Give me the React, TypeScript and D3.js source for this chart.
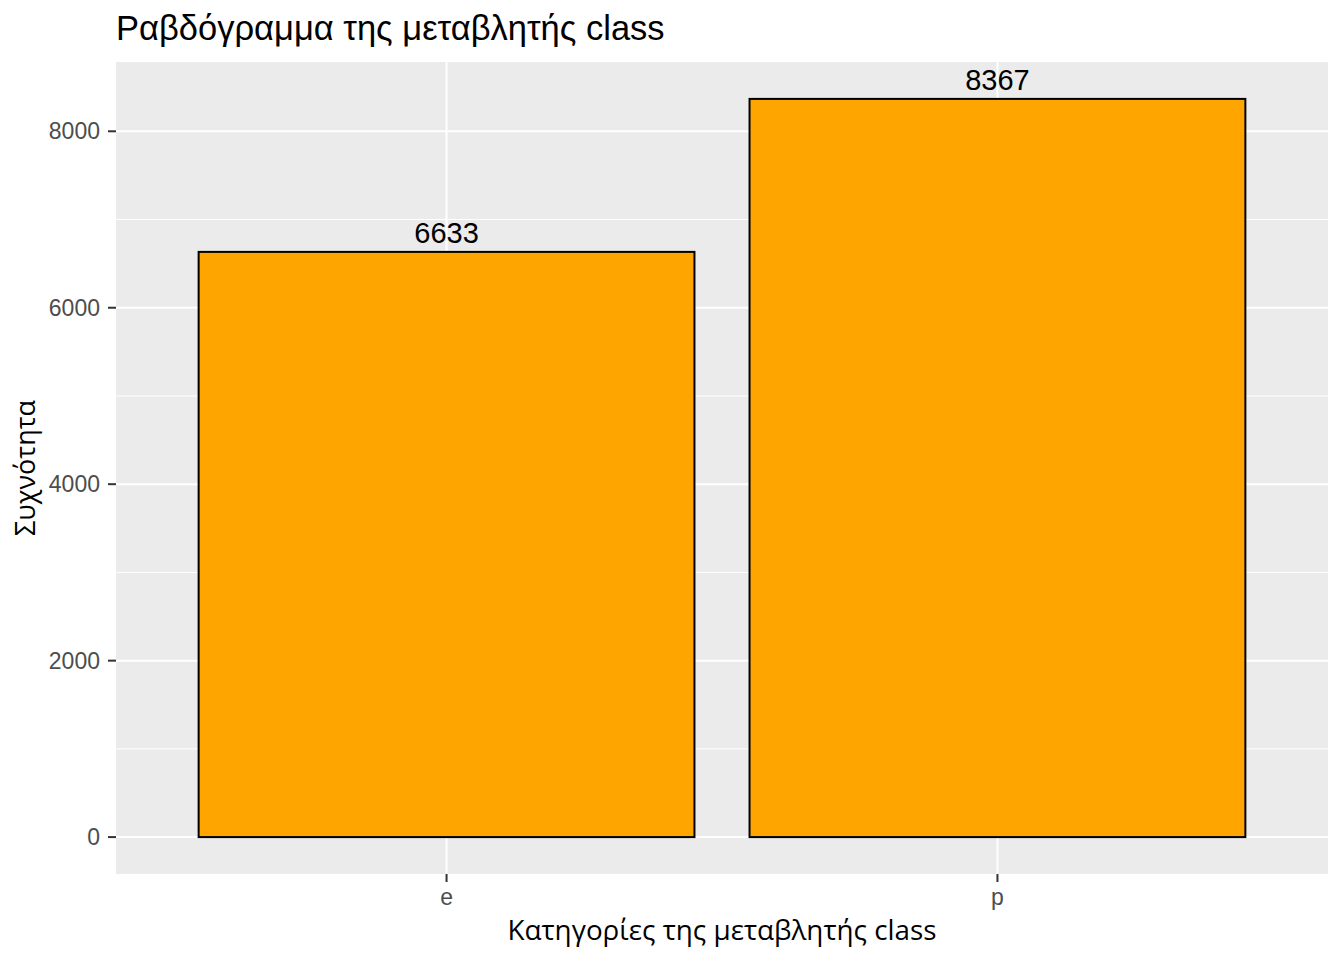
import React from "react";
import * as d3 from "d3";

const categories = ["e", "p"];
const counts = [6633, 8367];
const yTicks = [0, 2000, 4000, 6000, 8000];
const titleText = "Ραβδόγραμμα της μεταβλητής class";
const xTitle = "Κατηγορίες της μεταβλητής class";
const yTitle = "Συχνότητα";

const W = 1344;
const H = 960;
const panel = { left: 116, right: 1328, top: 62, bottom: 874 };

export default function App() {
  const maxV = d3.max(counts) as number;
  const expand = maxV * 0.05;
  const y = d3
    .scaleLinear()
    .domain([-expand, maxV + expand])
    .range([panel.bottom, panel.top]);
  const n = categories.length;
  const unit = (panel.right - panel.left) / (n - 1 + 1.2);
  const x = d3
    .scalePoint<string>()
    .domain(categories)
    .range([panel.left + 0.6 * unit, panel.right - 0.6 * unit]);
  const barW = unit * 0.9;
  const minorTicks = yTicks.slice(0, -1).map((t, i) => (t + yTicks[i + 1]) / 2);

  const sans = "Liberation Sans, Arial, sans-serif";
  const titleFont = "Open Sans, sans-serif";

  return (
    <svg width={W} height={H} style={{ position: "absolute", left: 0, top: 0 }}>
      <rect x={0} y={0} width={W} height={H} fill="#ffffff" />
      <rect
        x={panel.left}
        y={panel.top}
        width={panel.right - panel.left}
        height={panel.bottom - panel.top}
        fill="#EBEBEB"
      />
      {minorTicks.map((t) => (
        <line
          key={"m" + t}
          x1={panel.left}
          x2={panel.right}
          y1={y(t)}
          y2={y(t)}
          stroke="#ffffff"
          strokeWidth={1}
        />
      ))}
      {yTicks.map((t) => (
        <line
          key={"g" + t}
          x1={panel.left}
          x2={panel.right}
          y1={y(t)}
          y2={y(t)}
          stroke="#ffffff"
          strokeWidth={2}
        />
      ))}
      {categories.map((c) => (
        <line
          key={"v" + c}
          x1={x(c)}
          x2={x(c)}
          y1={panel.top}
          y2={panel.bottom}
          stroke="#ffffff"
          strokeWidth={2}
        />
      ))}
      {categories.map((c, i) => (
        <rect
          key={"b" + c}
          x={(x(c) as number) - barW / 2}
          y={y(counts[i])}
          width={barW}
          height={y(0) - y(counts[i])}
          fill="#FFA500"
          stroke="#000000"
          strokeWidth={2}
        />
      ))}
      {categories.map((c, i) => (
        <text
          key={"l" + c}
          x={x(c)}
          y={y(counts[i]) - 9}
          textAnchor="middle"
          fontFamily={sans}
          fontSize={29}
          fill="#000000"
        >
          {counts[i]}
        </text>
      ))}
      {yTicks.map((t) => (
        <g key={"yt" + t}>
          <line
            x1={panel.left - 8}
            x2={panel.left}
            y1={y(t)}
            y2={y(t)}
            stroke="#333333"
            strokeWidth={2}
          />
          <text
            x={panel.left - 16}
            y={y(t)}
            dy="0.35em"
            textAnchor="end"
            fontFamily={sans}
            fontSize={23}
            fill="#4D4D4D"
          >
            {t}
          </text>
        </g>
      ))}
      {categories.map((c) => (
        <g key={"xt" + c}>
          <line
            x1={x(c)}
            x2={x(c)}
            y1={panel.bottom}
            y2={panel.bottom + 8}
            stroke="#333333"
            strokeWidth={2}
          />
          <text
            x={x(c)}
            y={panel.bottom + 31}
            textAnchor="middle"
            fontFamily={sans}
            fontSize={23}
            fill="#4D4D4D"
          >
            {c}
          </text>
        </g>
      ))}
      <text
        x={(panel.left + panel.right) / 2}
        y={940}
        textAnchor="middle"
        fontFamily={titleFont}
        fontSize={27.8}
        fill="#000000"
      >
        {xTitle}
      </text>
      <text
        transform={`translate(35, ${(panel.top + panel.bottom) / 2}) rotate(-90)`}
        textAnchor="middle"
        fontFamily={titleFont}
        fontSize={27}
        fill="#000000"
      >
        {yTitle}
      </text>
      <text
        x={116}
        y={40}
        fontFamily={sans}
        fontSize={34.5}
        fill="#000000"
      >
        {titleText}
      </text>
    </svg>
  );
}
